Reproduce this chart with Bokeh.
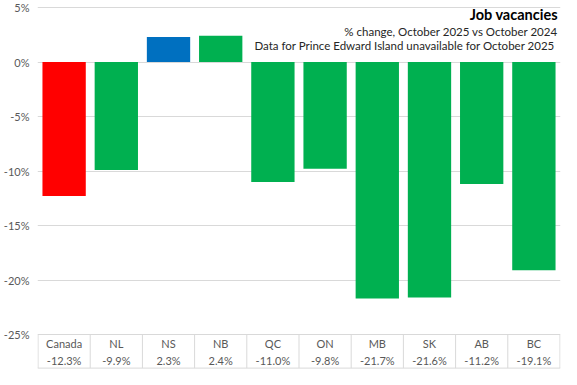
from bokeh.plotting import figure
from bokeh.models import ColumnDataSource, FactorRange, Range1d, FixedTicker, PrintfTickFormatter, Span
from bokeh.transform import dodge
from bokeh.core.properties import value
from bokeh.embed import file_html
from bokeh.resources import INLINE

# ---- data ----
categories = ["Canada", "NL", "NS", "NB", "QC", "ON", "MB", "SK", "AB", "BC"]
changes = [-12.3, -9.9, 2.3, 2.4, -11.0, -9.8, -21.7, -21.6, -11.2, -19.1]
bar_colors = ["#FF0000", "#00B050", "#0070C0", "#00B050", "#00B050",
              "#00B050", "#00B050", "#00B050", "#00B050", "#00B050"]
y_ticks = [-25, -20, -15, -10, -5, 0, 5]
title = "Job vacancies"
subtitle_1 = "% change, October 2025 vs October 2024"
subtitle_2 = "Data for Prince Edward Island unavailable  for October 2025"

FONT = "Lato"
GRID = "#D9D9D9"
TXT = "#595959"

src = ColumnDataSource(dict(
    cat=categories,
    val=changes,
    color=bar_colors,
    label=[f"{v:.1f}%" for v in changes],
))
last_src = ColumnDataSource(dict(cat=[categories[-1]]))

scale = 10.9  # px per percentage point
y_top = 5 + 7 / scale
y_bottom = y_top - 369 / scale
table_bottom = y_bottom + 1.4 / scale

p = figure(width=561, height=369,
           x_range=FactorRange(*categories, range_padding=0.002),
           y_range=Range1d(y_bottom, y_top),
           x_axis_location=None,
           output_backend="svg", toolbar_location=None,
           min_border_left=30, min_border_right=1,
           min_border_top=0, min_border_bottom=0)
p.outline_line_color = None
p.background_fill_color = "white"
p.border_fill_color = "white"

# y axis
p.yaxis.ticker = FixedTicker(ticks=y_ticks)
p.yaxis.formatter = PrintfTickFormatter(format="%d%%")
p.yaxis.axis_line_color = None
p.yaxis.major_tick_line_color = None
p.yaxis.minor_tick_line_color = None
p.yaxis.major_label_standoff = 2
p.yaxis.major_label_text_font = FONT
p.yaxis.major_label_text_font_size = "11px"
p.yaxis.major_label_text_color = TXT

p.xgrid.grid_line_color = None
p.ygrid.ticker = FixedTicker(ticks=y_ticks)
p.ygrid.grid_line_color = GRID
p.ygrid.grid_line_width = 1

# bars
p.vbar(x="cat", top="val", bottom=0, width=0.83, fill_color="color",
       line_color=None, source=src)

# data table below the plot
p.add_layout(Span(location=table_bottom, dimension="width",
                  line_color=GRID, line_width=1))
p.segment(x0=dodge("cat", -0.5, range=p.x_range), y0=-25,
          x1=dodge("cat", -0.5, range=p.x_range), y1=table_bottom,
          line_color=GRID, line_width=1, source=src)
p.segment(x0=dodge("cat", 0.5, range=p.x_range), y0=-25,
          x1=dodge("cat", 0.5, range=p.x_range), y1=table_bottom,
          line_color=GRID, line_width=1, source=last_src)
p.text(x="cat", y=-25.85, text="cat", source=src,
       text_font=value(FONT), text_font_size="11px", text_color=TXT,
       text_align="center", text_baseline="middle")
p.text(x="cat", y=-27.35, text="label", source=src,
       text_font=value(FONT), text_font_size="11px", text_color=TXT,
       text_align="center", text_baseline="middle")

# titles
tx = dodge("cat", 0.46, range=p.x_range)
p.text(x=tx, y=4.35, text=value(title), source=last_src,
       text_font=value(FONT), text_font_size="14.5px", text_font_style="bold",
       text_color="#000000", text_align="right", text_baseline="middle")
p.text(x=tx, y=2.78, text=value(subtitle_1), source=last_src,
       text_font=value(FONT), text_font_size="11.5px",
       text_color="#262626", text_align="right", text_baseline="middle")
p.text(x=tx, y=1.5, text=value(subtitle_2), source=last_src,
       text_font=value(FONT), text_font_size="11.5px",
       text_color="#262626", text_align="right", text_baseline="middle")

open("out.html", "w").write(file_html(p, INLINE))
